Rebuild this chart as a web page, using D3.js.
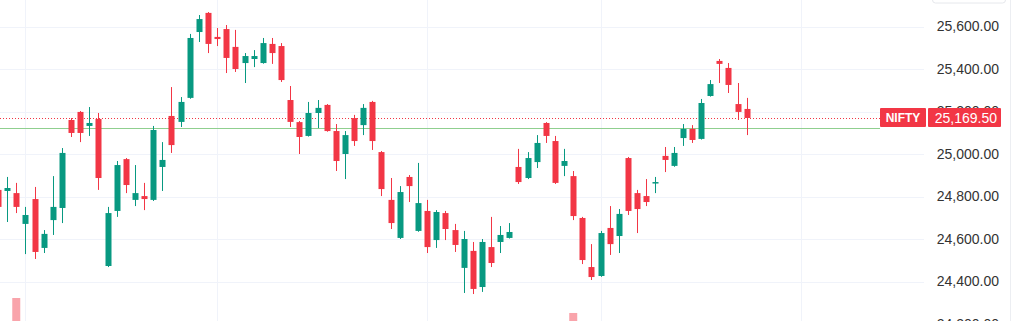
<!DOCTYPE html>
<html lang="en">
  <head>
    <meta charset="utf-8" />
    <title>NIFTY</title>
    <script src="https://d3js.org/d3.v7.min.js"></script>
    <style>
      body { margin: 0; background: #fff; overflow: hidden; }
      text { font-family: "Liberation Sans", Arial, sans-serif; }
    </style>
  </head>
  <body>
    <script>
      // candles (daily OHLC)
      var opens = [24831,24826,24816,24671,24788,24558,24689,24746,25160,25198,25132,25165,24473,24732,24976,24784,24802,24784,24939,25179,
        25151,25264,25574,25664,25551,25588,25504,25428,25447,25428,25518,25508,25254,25150,25085,25193,25231,25108,25000,25169,
        25136,25245,25009,24784,24605,24892,24638,24732,24595,24722,24642,24464,24544,24374,24562,24586,24605,24939,24887,24962,
        25146,25061,24944,24896,24699,24468,24426,24652,24614,24981,24816,24802,24864,24991,24944,25075,25118,25071,25273,25438,
        25405,25235,25212];
      var highs = [24854,24892,24864,24751,24845,24642,24896,25028,25169,25202,25221,25193,24751,24967,24981,24948,24864,25132,25056,25315,
        25268,25565,25654,25668,25593,25607,25584,25475,25489,25546,25546,25522,25320,25155,25245,25254,25235,25141,25108,25184,
        25235,25250,25014,24887,24849,24901,24958,24784,24736,24732,24671,24638,24586,24600,24704,24661,24675,25024,25009,25089,
        25150,25085,25024,24920,24704,24576,24638,24755,24741,24986,24831,24882,24892,25033,25033,25141,25136,25259,25348,25447,
        25428,25334,25264];
      var lows = [24727,24680,24722,24529,24506,24534,24619,24675,25080,25056,25085,24831,24468,24704,24816,24755,24736,24779,24826,25005,
        25127,25260,25527,25475,25508,25381,25386,25334,25409,25425,25424,25339,25127,25000,25082,25122,25105,24920,24882,25038,
        25089,25019,24802,24647,24600,24774,24634,24534,24558,24595,24539,24346,24341,24351,24468,24534,24602,24859,24882,24934,
        25052,24859,24896,24689,24482,24407,24422,24525,24534,24713,24628,24755,24816,24915,24940,25038,25052,25068,25270,25334,
        25287,25160,25089];
      var closes = [24751,24840,24751,24713,24539,24624,24751,25005,25099,25099,25146,24887,24722,24948,24854,24816,24788,25113,24972,25042,
        25245,25546,25635,25518,25541,25452,25400,25461,25461,25522,25475,25348,25151,25080,25193,25217,25108,24967,25089,25061,
        25217,25061,24835,24675,24821,24849,24769,24562,24727,24647,24572,24600,24365,24586,24487,24619,24633,24868,24981,25052,
        25085,24864,24967,24708,24501,24421,24628,24576,24718,24732,24741,24774,24868,24972,25005,25118,25066,25240,25329,25424,
        25325,25198,25169.5];

      var priceTicks = [24200,24400,24600,24800,25000,25200,25400,25600];
      var monthStarts = [3,24,47,66,88];
      var lastPrice = 25169.5;
      var prevClose = 25122;
      var symbol = "NIFTY";

      // only the two tallest volume bars reach into view
      var volIndex = [2,63];
      var volValues = [480,327];

      var width = 1024, height = 321;
      var paneRight = 924;
      var upColor = "#089981", downColor = "#f23645";

      var svg = d3.select("body").append("svg")
        .attr("width", width)
        .attr("height", height);

      var data = opens.map(function (o, i) {
        return { i: i, o: o, h: highs[i], l: lows[i], c: closes[i] };
      });

      var x = d3.scaleLinear().domain([0, 82]).range([-2, 746.7]);
      var y = d3.scaleLinear().domain([24200, 25600]).range([324, 26.5]);
      var yVol = d3.scaleLinear().domain([0, 480]).range([345, 298]);

      // grid
      svg.append("g").selectAll("line.h")
        .data(priceTicks)
        .enter().append("line")
        .attr("x1", 0).attr("x2", paneRight)
        .attr("y1", function (d) { return Math.round(y(d)) + 0.5; })
        .attr("y2", function (d) { return Math.round(y(d)) + 0.5; })
        .attr("stroke", "#f0f3fa");

      svg.append("g").selectAll("line.v")
        .data(monthStarts)
        .enter().append("line")
        .attr("x1", function (d) { return Math.round(x(d)) + 0.5; })
        .attr("x2", function (d) { return Math.round(x(d)) + 0.5; })
        .attr("y1", 0).attr("y2", height)
        .attr("stroke", "#f0f3fa");

      // volume
      svg.append("g").selectAll("rect")
        .data(volIndex)
        .enter().append("rect")
        .attr("x", function (d) { return x(d) - 4; })
        .attr("width", 8)
        .attr("y", function (d, k) { return yVol(volValues[k]); })
        .attr("height", function (d, k) { return yVol(0) - yVol(volValues[k]); })
        .attr("fill", "rgba(242,54,69,0.45)");

      // previous close + last price lines
      svg.append("line")
        .attr("x1", 0).attr("x2", 880)
        .attr("y1", Math.round(y(prevClose)) + 0.5)
        .attr("y2", Math.round(y(prevClose)) + 0.5)
        .attr("stroke", "#8fcf8f").attr("stroke-width", 1);

      svg.append("line")
        .attr("x1", 0).attr("x2", 880)
        .attr("y1", Math.round(y(lastPrice)) + 0.5)
        .attr("y2", Math.round(y(lastPrice)) + 0.5)
        .attr("stroke", downColor).attr("stroke-width", 1)
        .attr("stroke-dasharray", "1,2");

      // candles
      var candle = svg.append("g").selectAll("g")
        .data(data)
        .enter().append("g");

      candle.append("line")
        .attr("x1", function (d) { return Math.round(x(d.i)) + 0.5; })
        .attr("x2", function (d) { return Math.round(x(d.i)) + 0.5; })
        .attr("y1", function (d) { return y(d.h); })
        .attr("y2", function (d) { return y(d.l); })
        .attr("stroke", function (d) { return d.c >= d.o ? upColor : downColor; });

      candle.append("rect")
        .attr("x", function (d) { return Math.round(x(d.i)) - 2.5; })
        .attr("width", 6)
        .attr("y", function (d) { return y(Math.max(d.o, d.c)); })
        .attr("height", function (d) { return Math.max(1.5, Math.abs(y(d.o) - y(d.c))); })
        .attr("fill", function (d) { return d.c >= d.o ? upColor : downColor; });

      // price scale
      svg.append("line")
        .attr("x1", 1010.5).attr("x2", 1010.5)
        .attr("y1", 0).attr("y2", height)
        .attr("stroke", "#eceef2");

      svg.append("rect")
        .attr("x", 932.5).attr("y", -6)
        .attr("width", 73).attr("height", 9)
        .attr("rx", 3)
        .attr("fill", "#fff").attr("stroke", "#e6e8ec");

      svg.append("g").selectAll("text")
        .data(priceTicks)
        .enter().append("text")
        .attr("x", 999)
        .attr("y", function (d) { return y(d); })
        .attr("dy", "0.35em")
        .attr("text-anchor", "end")
        .attr("font-size", 14)
        .attr("fill", "#333")
        .text(function (d) { return d3.format(",.2f")(d); });

      // symbol + last price labels
      var ly = y(lastPrice);
      svg.append("rect")
        .attr("x", 880).attr("y", ly - 10)
        .attr("width", 46).attr("height", 19)
        .attr("rx", 1)
        .attr("fill", downColor);
      svg.append("text")
        .attr("x", 903).attr("y", ly)
        .attr("dy", "0.36em")
        .attr("text-anchor", "middle")
        .attr("font-size", 12)
        .attr("font-weight", "bold")
        .attr("fill", "#fff")
        .text(symbol);

      svg.append("rect")
        .attr("x", 928).attr("y", ly - 10)
        .attr("width", 73).attr("height", 19)
        .attr("rx", 1)
        .attr("fill", downColor);
      svg.append("text")
        .attr("x", 997).attr("y", ly)
        .attr("dy", "0.36em")
        .attr("text-anchor", "end")
        .attr("font-size", 14)
        .attr("fill", "#fff")
        .text(d3.format(",.2f")(lastPrice));
    </script>
  </body>
</html>
